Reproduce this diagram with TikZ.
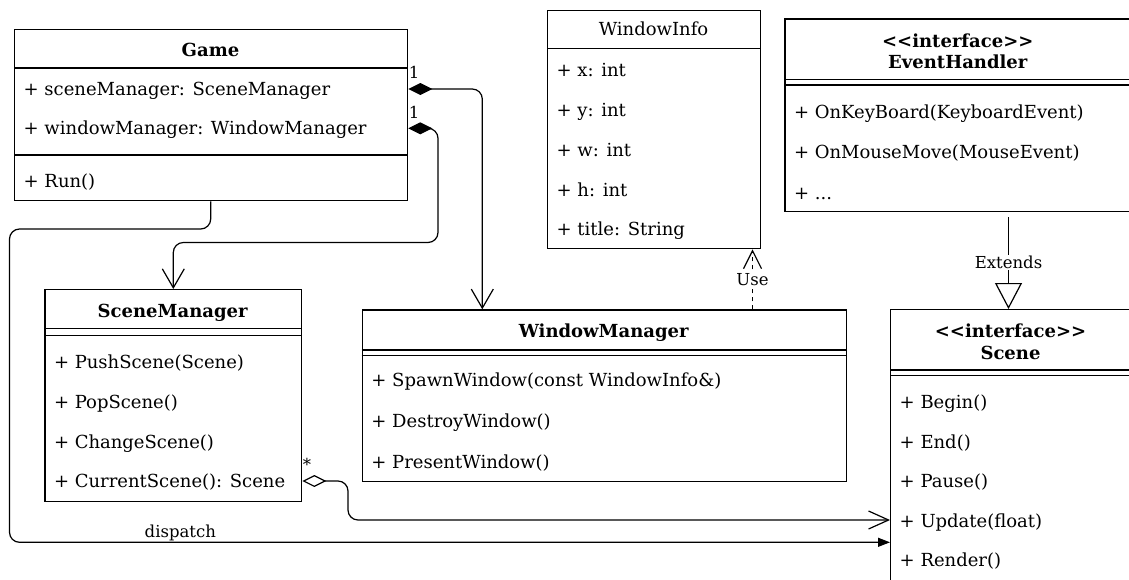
\documentclass[tikz,border=0pt]{standalone}
\usepackage{fontspec}
\setmainfont{DejaVu Serif}
\usetikzlibrary{arrows.meta,calc}
\newcommand{\rowfont}{\fontsize{18}{21}\selectfont}
\newcommand{\ttlfont}{\fontsize{18}{21}\selectfont\bfseries}
\newcommand{\lblfont}{\fontsize{16.5}{19}\selectfont}
\newcommand{\stereo}{<\kern0pt<interface>\kern0pt>}

\begin{document}
\begin{tikzpicture}[x=1pt,y=-1pt,
  umlbox/.style={draw, line width=1.3pt, rectangle, inner sep=0pt, anchor=north west, fill=white},
  sepline/.style={line width=1.3pt},
  row/.style={anchor=base west, inner sep=0pt, yshift=-6.5pt, font=\rowfont},
  ttl/.style={anchor=base, inner sep=0pt, yshift=-6.5pt, font=\ttlfont},
  ttlplain/.style={anchor=base, inner sep=0pt, yshift=-6.5pt, font=\rowfont},
  lbl/.style={inner sep=1pt, font=\lblfont},
  conn/.style={line width=1.2pt, rounded corners=10pt},
  compos/.style={conn, {Diamond[length=24pt,width=12pt]}-{Straight Barb[length=19pt,width=22pt]}},
  aggreg/.style={conn, {Diamond[open,fill=white,length=24pt,width=12pt]}-{Straight Barb[length=20pt,width=18pt]}},
  calls/.style={conn, -{Triangle[length=12pt,width=9pt]}},
  usedep/.style={line width=1.2pt, dash pattern=on 4pt off 4pt, -{Straight Barb[length=18pt,width=18pt]}},
  extends/.style={line width=1.2pt, shorten <=5pt, -{Triangle[open,fill=white,length=26pt,width=27pt]}},
]
\clip (0,0) rectangle (1129,579);
\fill[white] (0,0) rectangle (1129,579);

% ---- Game ----
\node[umlbox, minimum width=393pt, minimum height=171pt] (game) at (14,29) {};
\draw[sepline] (14,68) -- (407,68);
\draw[sepline] (14,155) -- (407,155);
\node[ttl] (gameT) at (210.5,50) {Game};
\node[row] (gsm) at (23.5,89) {+ sceneManager: SceneManager};
\node[row] (gwm) at (23.5,128.3) {+ windowManager: WindowManager};
\node[row] (grun) at (23.5,181) {+ Run()};

% ---- WindowInfo ----
\node[umlbox, minimum width=213pt, minimum height=238pt] (wi) at (547,10) {};
\draw[sepline] (547,48.3) -- (760,48.3);
\node[ttlplain] (wiT) at (653.5,29) {WindowInfo};
\node[row] (wix) at (556.5,69.5) {+ x: int};
\node[row] (wiy) at (556.5,109.5) {+ y: int};
\node[row] (wiw) at (556.5,149.5) {+ w: int};
\node[row] (wih) at (556.5,189.5) {+ h: int};
\node[row] (wititle) at (556.5,229) {+ title: String};

% ---- EventHandler ----
\node[umlbox, minimum width=347pt, minimum height=192.4pt] (eh) at (784.3,18.3) {};
\draw[sepline] (784.3,79.3) -- (1131.3,79.3);
\draw[sepline] (784.3,85) -- (1131.3,85);
\node[ttl] (ehS) at (957.8,40.7) {\stereo};
\node[ttl] (ehT) at (957.8,61.7) {EventHandler};
\node[row] (ehkb) at (793.8,111.7) {+ OnKeyBoard(KeyboardEvent)};
\node[row] (ehmm) at (793.8,152.4) {+ OnMouseMove(MouseEvent)};
\node[row] (ehmore) at (793.8,193.2) {+ ...};

% ---- SceneManager ----
\node[umlbox, minimum width=256.7pt, minimum height=211.7pt] (sm) at (44.3,289) {};
\draw[sepline] (44.3,328.7) -- (301,328.7);
\draw[sepline] (44.3,335.3) -- (301,335.3);
\node[ttl] (smT) at (172.65,310.7) {SceneManager};
\node[row] (smpush) at (53.8,361.7) {+ PushScene(Scene)};
\node[row] (smpop) at (53.8,401.7) {+ PopScene()};
\node[row] (smchg) at (53.8,441.7) {+ ChangeScene()};
\node[row] (smcur) at (53.8,481) {+ CurrentScene(): Scene};

% ---- WindowManager ----
\node[umlbox, minimum width=484pt, minimum height=171.4pt] (wm) at (361.7,309.3) {};
\draw[sepline] (361.7,350) -- (845.7,350);
\draw[sepline] (361.7,355.5) -- (845.7,355.5);
\node[ttl] (wmT) at (603.7,330.7) {WindowManager};
\node[row] (wmspawn) at (371.2,380) {+ SpawnWindow(const WindowInfo\&)};
\node[row] (wmdestroy) at (371.2,421) {+ DestroyWindow()};
\node[row] (wmpresent) at (371.2,461.7) {+ PresentWindow()};

% ---- Scene ----
\node[umlbox, minimum width=241pt, minimum height=320pt] (scene) at (890,309) {};
\draw[sepline] (890,370) -- (1131,370);
\draw[sepline] (890,375.7) -- (1131,375.7);
\node[ttl] (scS) at (1010.5,331) {\stereo};
\node[ttl] (scT) at (1010.5,352.7) {Scene};
\node[row] (scbegin) at (899.5,402) {+ Begin()};
\node[row] (scend) at (899.5,441.6) {+ End()};
\node[row] (scpause) at (899.5,481.2) {+ Pause()};
\node[row] (scupdate) at (899.5,520.8) {+ Update(float)};
\node[row] (screnderr) at (899.5,560.4) {+ Render()};

% ---- attachment points on the rows ----
\path (game.east |- gsm.base) ++(0,-6.5) coordinate (gsmOut);
\path (game.east |- gwm.base) ++(0,-6.5) coordinate (gwmOut);
\path (sm.east |- smcur.base) ++(0,-6.5) coordinate (smcurOut);

% ---- connectors ----
\draw[compos] (gsmOut) -| ($(wm.north west)+(120.6,0)$);
\draw[compos] (gwmOut) -- ++(29.7,0) -- ++(0,114.2) -| (sm.north);
\draw[calls] ($(game.south west)+(196.7,0)$) -- ++(0,27.7) -- ++(-201.2,0)
  |- node[lbl, pos=0.597, above] (dispatchL) {dispatch} ($(scene.north west)+(0,233.3)$);
\draw[aggreg] (smcurOut) -- ++(45.7,0) |- ($(scene.north west)+(0,211)$);
\draw[usedep] ($(wm.north west)+(390.8,0)$) -- node[lbl, fill=white, pos=0.5] (useL) {Use}
  ($(wi.south west)+(205.5,0)$);
\draw[extends] ($(eh.south west)+(224.2,0)$) -- node[lbl, fill=white, pos=0.52] (extL) {Extends}
  ($(scene.north west)+(118.5,0)$);

% ---- multiplicities ----
\node[lbl] (m1) at (414,72) {1};
\node[lbl] (m2) at (414,112) {1};
\node[lbl] (mstar) at (307,464) {*};
\end{tikzpicture}
\end{document}
